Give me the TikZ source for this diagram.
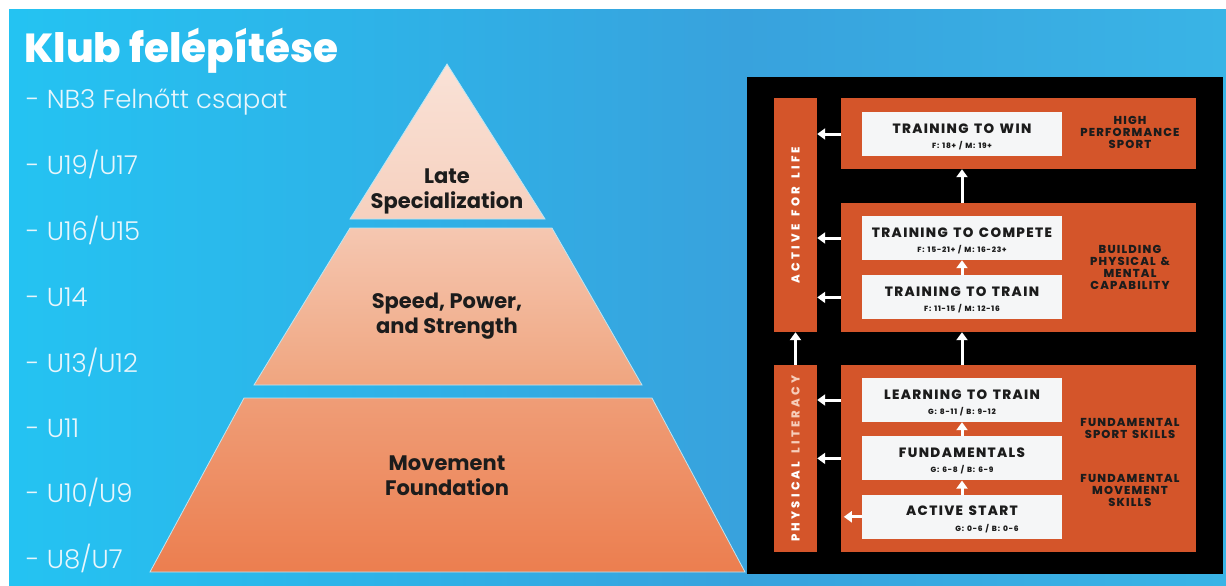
\documentclass[tikz,border=0pt]{standalone}
\usepackage{fontspec}
\setmainfont{Poppins}
\IfFontExistsTF{Poppins ExtraBold}
    {\newfontfamily\heavyfont{Poppins ExtraBold}
     \newfontfamily\panelfont{Poppins ExtraBold}[LetterSpace=10, WordSpace=1.4]
     \newfontfamily\barfont{Poppins ExtraBold}[LetterSpace=28, WordSpace=1.5]}
    {\newfontfamily\heavyfont{Poppins}[UprightFont=*-Bold]
     \newfontfamily\panelfont{Poppins}[UprightFont=*-Bold, LetterSpace=10, WordSpace=1.4]
     \newfontfamily\barfont{Poppins}[UprightFont=*-Bold, LetterSpace=28, WordSpace=1.5]}
\IfFontExistsTF{Poppins Light}
    {\newfontfamily\listfont{Poppins Light}}
    {\newfontfamily\listfont{Poppins}}
\newcommand{\agefont}{\panelfont\fontsize{7.5}{9}\selectfont}
\usetikzlibrary{positioning, arrows.meta}
\definecolor{skyA}{HTML}{33AEE5}
\definecolor{skyB}{HTML}{24C3F2}
\definecolor{skyC}{HTML}{38A2DD}
\definecolor{skyD}{HTML}{39B4E6}
\definecolor{skyE}{HTML}{40C2EC}
\pgfdeclarehorizontalshading{sky}{100bp}{color(0bp)=(skyA); color(25bp)=(skyB);
    color(55bp)=(skyC); color(75bp)=(skyD); color(100bp)=(skyE)}
\definecolor{edgeblue}{HTML}{BDE6F4}
\definecolor{listwhite}{HTML}{E8F6FC}
\definecolor{rust}{HTML}{D4552A}
\definecolor{paper}{HTML}{F5F6F7}
\definecolor{ink}{HTML}{1C1C1C}
\definecolor{pyrA}{HTML}{FAE2D7}
\definecolor{pyrB}{HTML}{F6D0BE}
\definecolor{pyrC}{HTML}{F5C7B1}
\definecolor{pyrD}{HTML}{F0A57F}
\definecolor{pyrE}{HTML}{EF9D77}
\definecolor{pyrF}{HTML}{EC7E4F}
\definecolor{paleliteracy}{HTML}{F6CDBA}
\tikzset{
    headline/.style={anchor=base west, inner sep=0pt, text=white,
        font=\heavyfont\fontsize{40.5}{46}\selectfont},
    agegroup/.style={anchor=base west, inner sep=0pt, text=listwhite,
        font=\listfont\fontsize{26}{30}\selectfont},
    pyrlevel/.style={draw=edgeblue, line width=0.8pt},
    pyrlabel/.style={align=center, inner sep=0pt, text=ink,
        font=\fontsize{21}{25}\selectfont\bfseries},
    band/.style={fill=rust, inner sep=0pt},
    stagebox/.style={fill=paper, inner sep=0pt, minimum width=200pt, minimum height=44pt,
        align=center, text=ink, font=\panelfont\fontsize{13.5}{15.5}\selectfont},
    sidenote/.style={align=center, inner sep=0pt, text=ink,
        font=\panelfont\fontsize{11.5}{12}\selectfont},
    bartext/.style={rotate=90, inner sep=0pt, text=white,
        font=\barfont\fontsize{11.5}{13}\selectfont},
    flow/.style={draw=white, line width=3pt, -{Triangle[width=11pt, length=8pt]}}
}

\begin{document}
\begin{tikzpicture}[x=1pt, y=-1pt]
    \useasboundingbox (0,0) rectangle (1226,586);
    \fill[white] (0,0) rectangle (1226,586);
    \shade[shading=sky] (9,10) rectangle (1226,586);

    % title and age groups
    \node[headline] (title) at (24,63) {Klub felépítése};
    \foreach \yy/\grp [count=\i] in {108/{NB3 Felnőtt csapat}, 174/{U19/U17}, 240/{U16/U15},
        306/{U14}, 372/{U13/U12}, 437/{U11}, 502/{U10/U9}, 568/{U8/U7}}
        \node[agegroup] (grp\i) at (26,\yy) {- \grp};

    % pyramid
    \shade[pyrlevel, top color=pyrA, bottom color=pyrB] (447,64) -- (545,219) -- (350,219) -- cycle;
    \shade[pyrlevel, top color=pyrC, bottom color=pyrD] (350,228) -- (552,228) -- (642,385) -- (254,385) -- cycle;
    \shade[pyrlevel, top color=pyrE, bottom color=pyrF] (244,398) -- (652,398) -- (745,572) -- (150,572) -- cycle;
    \node[pyrlabel] (late) at (447,191) {Late\\Specialization};
    \node[pyrlabel] (speed) at (447,316) {Speed, Power,\\and Strength};
    \node[pyrlabel] (move) at (447,476) {Movement\\Foundation};

    % LTAD panel
    \fill[black] (747,77) rectangle (1223,574);
    \node[band, minimum width=43pt, minimum height=234pt] (afl) at (795.5,215) {};
    \node[band, minimum width=43pt, minimum height=187pt] (pl) at (795.5,458.5) {};
    \node[bartext] at (afl.center) {ACTIVE FOR LIFE};
    \node[bartext] at (pl.center) {PHYSICAL \textcolor{paleliteracy}{LITERACY}};

    \node[band, minimum width=355pt, minimum height=71pt] (topband) at (1018.5,133.5) {};
    \node[band, minimum width=355pt, minimum height=129pt] (midband) at (1018.5,267.5) {};
    \node[band, minimum width=355pt, minimum height=187pt] (lowband) at (1018.5,458.5) {};

    \node[stagebox] (win) at (962,134) {\rule{0pt}{15pt}TRAINING TO WIN\\{\agefont F: 18+ / M: 19+}};
    \node[stagebox] (compete) at (962,238) {\rule{0pt}{15pt}TRAINING TO COMPETE\\{\agefont F: 15-21+ / M: 16-23+}};
    \node[stagebox, below=15pt of compete] (train) {\rule{0pt}{15pt}TRAINING TO TRAIN\\{\agefont F: 11-15 / M: 12-16}};
    \node[stagebox] (learn) at (962,400) {\rule{0pt}{15pt}LEARNING TO TRAIN\\{\agefont G: 8-11 / B: 9-12}};
    \node[stagebox, below=14pt of learn] (fund) {\rule{0pt}{15pt}FUNDAMENTALS\\{\agefont G: 6-8 / B: 6-9}};
    \node[stagebox, below=14pt of fund] (start) {\rule{0pt}{15pt}ACTIVE START\\\hspace*{50pt}{\agefont G: 0-6 / B: 0-6}};

    \node[sidenote] (hps) at (1130,132) {HIGH\\PERFORMANCE\\SPORT};
    \node[sidenote] (bpm) at (1130,267) {BUILDING\\PHYSICAL \&\\MENTAL\\CAPABILITY};
    \node[sidenote] (fss) at (1130,428) {FUNDAMENTAL\\SPORT SKILLS};
    \node[sidenote] (fms) at (1130,490) {FUNDAMENTAL\\MOVEMENT\\SKILLS};

    % arrows
    \foreach \s in {win, compete, train, learn, fund}
        \draw[flow] (topband.west |- \s) -- (afl.east |- \s);
    \draw[flow] (start.west) -- ([xshift=3pt]lowband.west |- start);
    \draw[flow] (midband.north -| win) -- (topband.south -| win);
    \draw[flow] (lowband.north -| win) -- (midband.south -| win);
    \draw[flow] (pl.north) -- (afl.south);
    \draw[flow] (train.north) -- (compete.south);
    \draw[flow] (fund.north) -- (learn.south);
    \draw[flow] (start.north) -- (fund.south);
\end{tikzpicture}
\end{document}
